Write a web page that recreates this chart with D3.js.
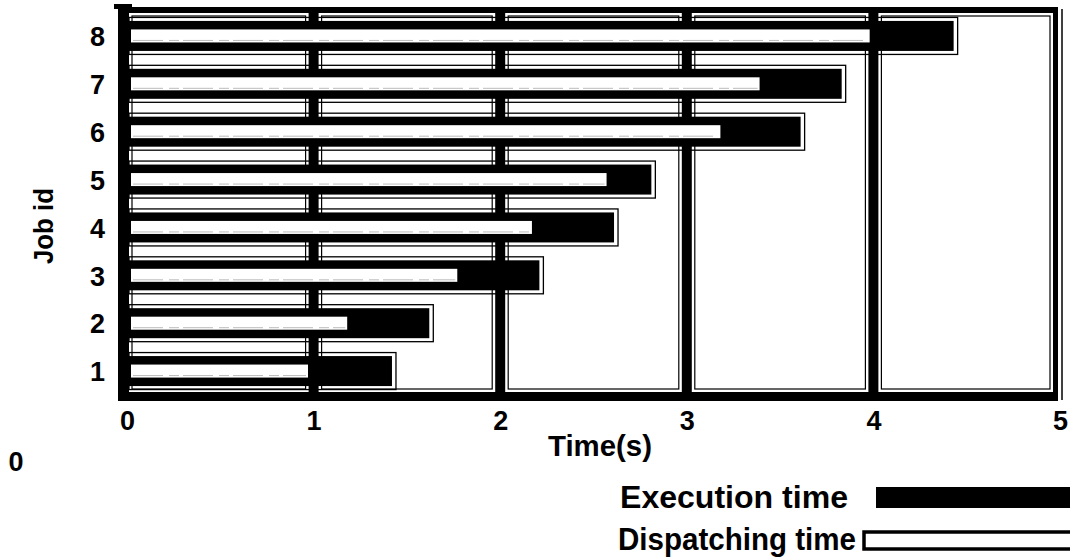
<!DOCTYPE html>
<html>
<head>
<meta charset="utf-8">
<script src="https://cdn.jsdelivr.net/npm/d3@7"></script>
<style>
  html, body { margin: 0; padding: 0; background: #fff; }
  svg { display: block; }
  text { font-family: "Liberation Sans", Arial, sans-serif; font-weight: bold; fill: #000; }
</style>
</head>
<body>
<svg id="chart" width="1070" height="557"></svg>
<script>
// ---- data ----
const jobs = [1, 2, 3, 4, 5, 6, 7, 8];
const dispatchEnd = [0.97, 1.18, 1.77, 2.17, 2.57, 3.18, 3.39, 3.98];
const execEnd     = [1.42, 1.62, 2.21, 2.61, 2.81, 3.61, 3.83, 4.43];
const xTicks = [0, 1, 2, 3, 4, 5];
const xTitle = "Time(s)";
const yTitle = "Job id";
const legendLabels = ["Execution time", "Dispatching time"];

(function () {
const svg = d3.select("#chart");
const x = d3.scaleLinear().domain([0, 5]).range([127, 1060]);
const y = d3.scaleLinear().domain([0.5, 8.5]).range([395, 12]);

const plotTop = 13, plotBottom = 392;
const gridW = 10;

// frame (black)
svg.append("rect").attr("x", 118).attr("y", 7).attr("width", 1058 - 118).attr("height", 401 - 7).attr("fill", "#000");
svg.append("rect").attr("x", 114).attr("y", 4).attr("width", 18).attr("height", 5).attr("fill", "#000");
svg.append("line").attr("x1", 1062).attr("x2", 1062).attr("y1", 9).attr("y2", 400).attr("stroke", "#000").attr("stroke-width", 1.5);

// white columns between thick gridlines
const cols = d3.range(5).map(i => ({
  x0: i === 0 ? 129 : x(i) + gridW / 2,
  x1: i === 4 ? 1053 : x(i + 1) - gridW / 2
}));
svg.append("g").selectAll("rect").data(cols).join("rect")
  .attr("x", d => d.x0).attr("y", plotTop)
  .attr("width", d => d.x1 - d.x0).attr("height", plotBottom - plotTop)
  .attr("fill", "#fff");
svg.append("g").selectAll("rect").data(cols).join("rect")
  .attr("x", d => d.x0 + 3).attr("y", plotTop + 3)
  .attr("width", d => d.x1 - d.x0 - 6).attr("height", plotBottom - plotTop - 6)
  .attr("fill", "none").attr("stroke", "#000").attr("stroke-width", 1.2);

// job bands
const rows = jobs.map((j, i) => ({ job: j, d: dispatchEnd[i], e: execEnd[i] }));
const g = svg.append("g");
g.selectAll("rect.outline").data(rows).join("rect").attr("class", "outline")
  .attr("x", 129).attr("y", d => y(d.job) - 18.5)
  .attr("width", d => x(d.e) + 4 - 129).attr("height", 37)
  .attr("fill", "none").attr("stroke", "#000").attr("stroke-width", 1.3);
g.selectAll("rect.exec").data(rows).join("rect").attr("class", "exec")
  .attr("x", 129).attr("y", d => y(d.job) - 15)
  .attr("width", d => x(d.e) - 129).attr("height", 30)
  .attr("fill", "#000");
g.selectAll("rect.disp").data(rows).join("rect").attr("class", "disp")
  .attr("x", 131).attr("y", d => y(d.job) - 6.5)
  .attr("width", d => x(d.d) - 131).attr("height", 13)
  .attr("fill", "#fff");
g.selectAll("line.dl").data(rows).join("line").attr("class", "dl")
  .attr("x1", 133).attr("x2", d => x(d.d) - 2)
  .attr("y1", d => y(d.job) + 4.5).attr("y2", d => y(d.job) + 4.5)
  .attr("stroke", "#aaa").attr("stroke-width", 0.8).attr("stroke-dasharray", "30 6 10 4");

// x axis
const xAxis = svg.append("g").attr("transform", "translate(0,401)")
  .call(d3.axisBottom(x).tickValues(xTicks).tickFormat(d3.format("d")).tickSize(0));
xAxis.select(".domain").remove();
xAxis.selectAll("text").attr("y", 29).attr("dy", 0).attr("fill", "#000")
  .style("font-size", "27px").style("font-family", "'Liberation Sans', Arial, sans-serif").style("font-weight", "bold");

// y axis
const yAxis = svg.append("g").attr("transform", "translate(127,0)")
  .call(d3.axisLeft(y).tickValues(jobs).tickFormat(d3.format("d")).tickSize(0).tickPadding(22));
yAxis.select(".domain").remove();
yAxis.selectAll("text").attr("dy", "0.36em").attr("fill", "#000")
  .style("font-size", "27px").style("font-family", "'Liberation Sans', Arial, sans-serif").style("font-weight", "bold");

// titles
svg.append("text").attr("x", 600).attr("y", 456).attr("text-anchor", "middle")
  .style("font-size", "29px").attr("textLength", 104).attr("lengthAdjust", "spacingAndGlyphs").text(xTitle);
svg.append("text").attr("transform", "translate(53,226) rotate(-90)").attr("text-anchor", "middle")
  .style("font-size", "28px").attr("textLength", 76).attr("lengthAdjust", "spacingAndGlyphs").text(yTitle);
svg.append("text").attr("x", 16).attr("y", 471).attr("text-anchor", "middle")
  .style("font-size", "27px").text("0");

// legend
svg.append("text").attr("x", 848).attr("y", 508).attr("text-anchor", "end")
  .style("font-size", "31px").attr("textLength", 228).attr("lengthAdjust", "spacingAndGlyphs").text(legendLabels[0]);
svg.append("rect").attr("x", 876).attr("y", 487).attr("width", 200).attr("height", 21).attr("fill", "#000");
svg.append("text").attr("x", 856).attr("y", 550).attr("text-anchor", "end")
  .style("font-size", "31px").attr("textLength", 238).attr("lengthAdjust", "spacingAndGlyphs").text(legendLabels[1]);
svg.append("rect").attr("x", 864).attr("y", 532).attr("width", 210).attr("height", 17)
  .attr("fill", "#fff").attr("stroke", "#000").attr("stroke-width", 3.5);
})();
</script>
</body>
</html>
